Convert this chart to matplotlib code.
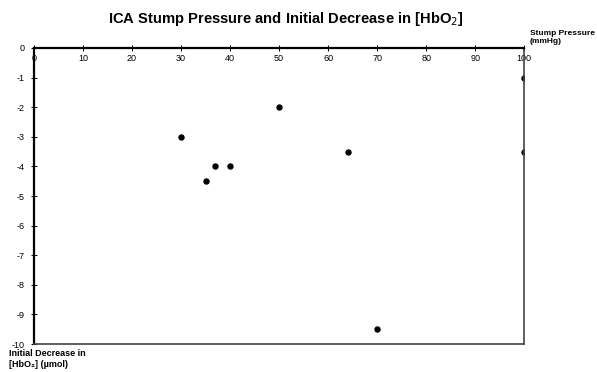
import matplotlib
matplotlib.use('Agg')
import matplotlib.pyplot as plt

# stump pressure (mmHg) vs initial decrease in [HbO2] (umol)
stump_pressure = [30, 35, 37, 40, 50, 64, 70, 100, 100]
hbo2_decrease = [-3, -4.5, -4, -4, -2, -3.5, -9.5, -1, -3.5]

x_ticks = list(range(0, 101, 10))
y_ticks = list(range(0, -11, -1))

plt.rcParams['font.family'] = ['Liberation Sans', 'DejaVu Sans']

fig = plt.figure(figsize=(5.97, 3.72), dpi=100)
ax = fig.add_axes([0.057, 0.075, 0.821, 0.796])

ax.plot(stump_pressure, hbo2_decrease, 'o', color='black', markersize=3.6)

ax.set_xlim(0, 100)
ax.set_ylim(-10, 0)
ax.set_xticks(x_ticks)
ax.set_yticks(y_ticks)
ax.set_yticklabels([str(v) for v in y_ticks])

ax.tick_params(axis='x', top=True, bottom=False, labeltop=True, labelbottom=False,
               direction='inout', length=5, width=0.7, labelsize=6.5, pad=-13)
ax.tick_params(axis='y', direction='inout', length=5, width=0.7, labelsize=6.5, pad=4)

ax.spines['top'].set_linewidth(1.6)
ax.spines['left'].set_linewidth(1.6)
ax.spines['right'].set_color('#444444')
ax.spines['right'].set_linewidth(1.2)
ax.spines['bottom'].set_color('#444444')
ax.spines['bottom'].set_linewidth(1.2)

fig.text(0.479, 0.95, 'ICA Stump Pressure and Initial Decrease in [HbO$_2$]',
         ha='center', va='center', fontsize=10.6, fontweight='bold')
fig.text(0.887, 0.898, 'Stump Pressure\n(mmHg)', ha='left', va='center',
         fontsize=6, fontweight='bold', linespacing=1.2)
fig.text(0.015, 0.062, 'Initial Decrease in\n[HbO\u2082] (\u00b5mol)', ha='left', va='top',
         fontsize=6.5, fontweight='bold', linespacing=1.3)

plt.savefig('out.png', dpi=100)
